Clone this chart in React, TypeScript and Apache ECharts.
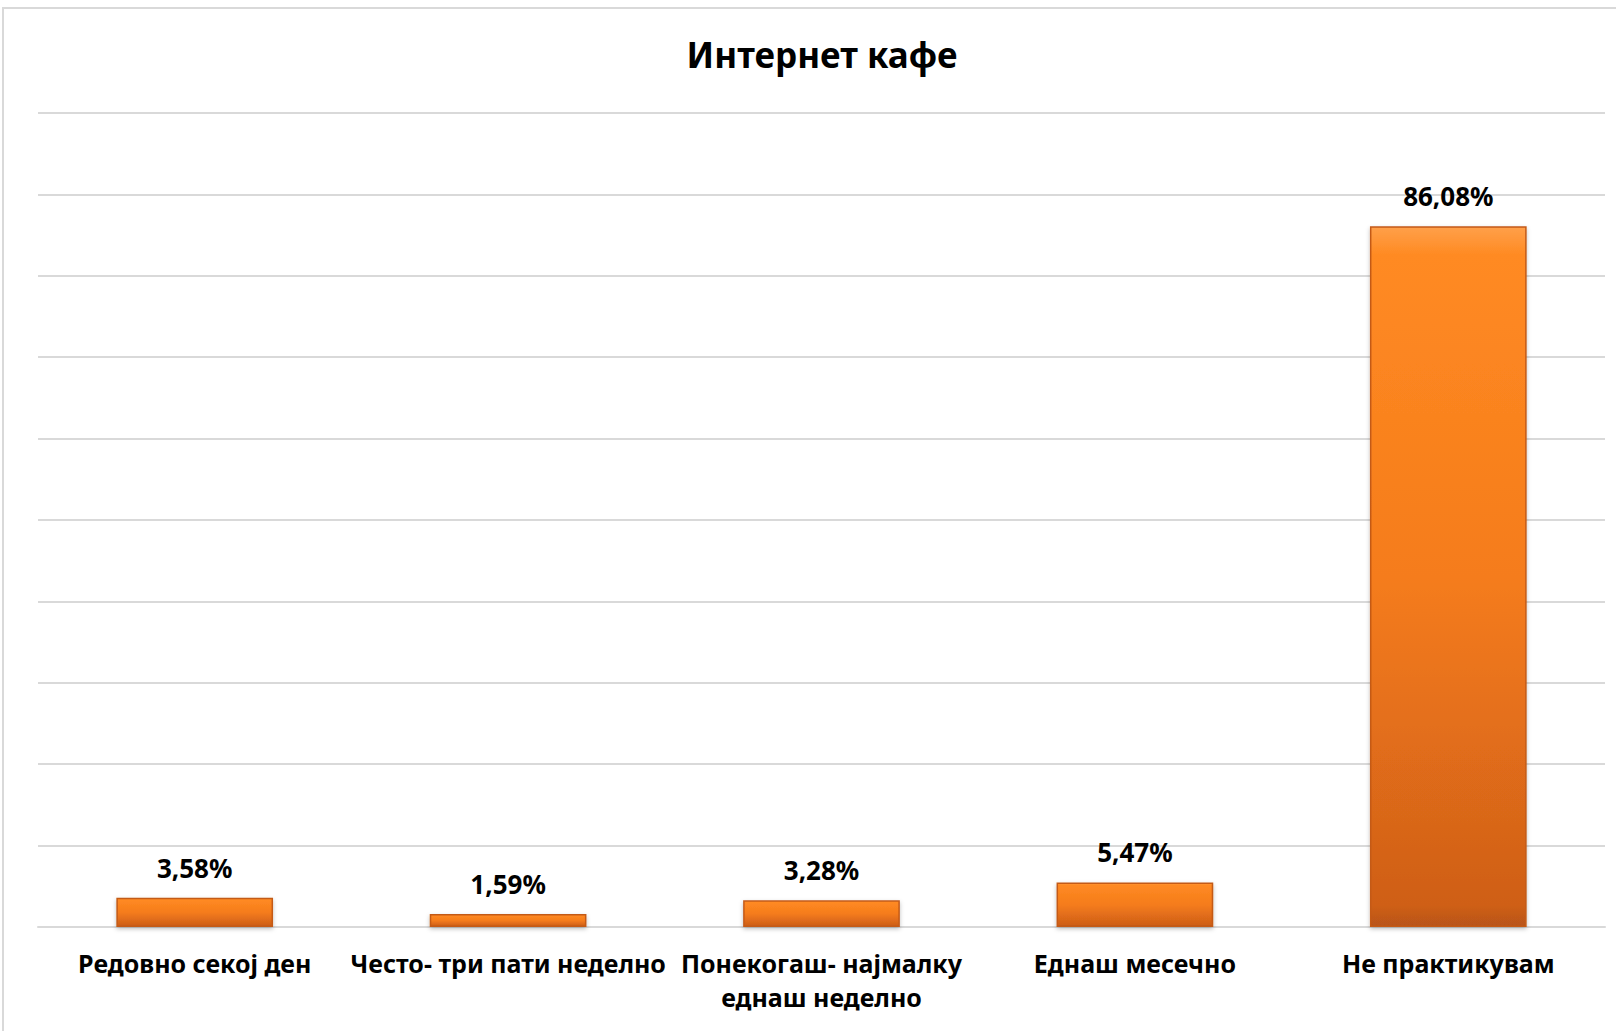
import React, { useEffect, useRef } from "react";
import * as echarts from "echarts";

const title = "Интернет кафе";
const categories = [
  "Редовно секој ден",
  "Често- три пати неделно",
  "Понекогаш- најмалку\nеднаш неделно",
  "Еднаш месечно",
  "Не практикувам",
];
const values = [3.58, 1.59, 3.28, 5.47, 86.08];
const axisMin = 0;
const axisMax = 100;
const axisInterval = 10;

export default function App() {
  const ref = useRef<HTMLDivElement>(null);
  useEffect(() => {
    if (!ref.current) return;
    const chart = echarts.init(ref.current, null, { renderer: "svg" });
    const font = "'Noto Sans', 'Open Sans', sans-serif";
    chart.setOption({
      animation: false,
      backgroundColor: "#ffffff",
      textStyle: { fontFamily: font },
      title: {
        text: title,
        left: 817,
        textAlign: "center",
        top: 32,
        textStyle: { fontFamily: font, fontWeight: "bold", fontSize: 35, color: "#000" },
      },
      graphic: [
        {
          type: "rect",
          shape: { x: 3, y: 8, width: 1700, height: 1100 },
          style: { fill: "none", stroke: "#D9D9D9", lineWidth: 2 },
          silent: true,
        },
      ],
      grid: { left: 38, right: 11, top: 113, bottom: 104, containLabel: false },
      xAxis: {
        type: "category",
        data: categories,
        axisTick: { show: false },
        axisLine: { show: true, lineStyle: { color: "#D9D9D9", width: 2 } },
        axisLabel: {
          interval: 0,
          margin: 19,
          fontFamily: font,
          fontWeight: "bold",
          fontSize: 25,
          lineHeight: 34,
          color: "#000",
        },
      },
      yAxis: {
        type: "value",
        min: axisMin,
        max: axisMax,
        interval: axisInterval,
        axisLabel: { show: false },
        axisLine: { show: false },
        axisTick: { show: false },
        splitLine: { lineStyle: { color: "#D9D9D9", width: 2 } },
      },
      series: [
        {
          type: "bar",
          data: values,
          barWidth: "50%",
          itemStyle: {
            color: new echarts.graphic.LinearGradient(0, 0, 0, 1, [
              { offset: 0, color: "#FFA04A" },
              { offset: 0.04, color: "#FF8A22" },
              { offset: 0.5, color: "#F57C1C" },
              { offset: 0.97, color: "#CF5F18" },
              { offset: 1, color: "#B8551A" },
            ]),
            borderColor: "#C45A17",
            borderWidth: 1.5,
            shadowColor: "rgba(0,0,0,0.25)",
            shadowBlur: 4,
            shadowOffsetY: 2,
          },
          label: {
            show: true,
            position: "top",
            distance: 17,
            fontFamily: font,
            fontWeight: "bold",
            fontSize: 26,
            color: "#000",
            formatter: (p: any) => p.value.toFixed(2).replace(".", ",") + "%",
          },
        },
      ],
    });
    return () => chart.dispose();
  }, []);
  return (
    <div
      ref={ref}
      style={{ position: "fixed", left: 0, top: 0, width: 1616, height: 1031 }}
    />
  );
}
